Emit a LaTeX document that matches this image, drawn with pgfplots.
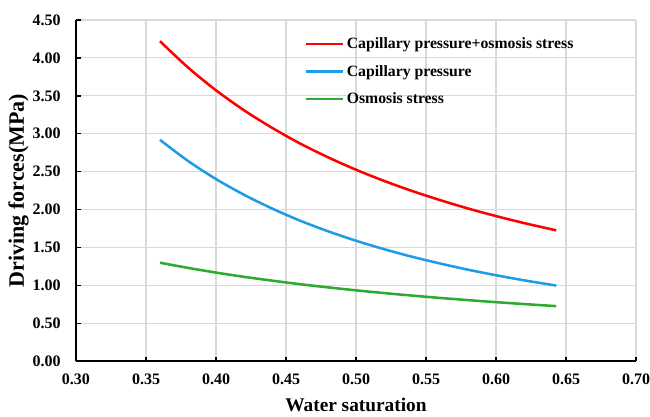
\documentclass[border=0pt]{standalone}
\usepackage{fontspec}
\setmainfont{Liberation Serif}
\usepackage{pgfplots}
\pgfplotsset{compat=1.18}
\definecolor{redline}{HTML}{FF0000}
\definecolor{blueline}{HTML}{1E9CE6}
\definecolor{greenline}{HTML}{2EAA2E}
\definecolor{gridgray}{HTML}{D9D9D9}
\begin{document}
\begin{tikzpicture}
\begin{axis}[
    scale only axis,
    width=420pt, height=256pt,
    xmin=0.30, xmax=0.70,
    ymin=0, ymax=4.5,
    xtick={0.30,0.35,...,0.71},
    ytick={0,0.5,...,4.51},
    axis x line=bottom, axis y line=left,
    axis line style={line width=1.3pt, -},
    tick align=inside,
    major tick length=3.5pt,
    tick style={line width=1pt, black},
    grid=major,
    grid style={line width=0.8pt, draw=gridgray},
    xticklabel style={yshift=-6pt, /pgf/number format/.cd, fixed, fixed zerofill, precision=2},
    yticklabel style={xshift=-8pt, /pgf/number format/.cd, fixed, fixed zerofill, precision=2},
    /pgf/number format/assume math mode=true,
    tick label style={font=\fontsize{12}{14}\selectfont\bfseries},
    xlabel={Water saturation},
    ylabel={Driving forces(MPa)},
    xlabel style={font=\fontsize{14.5}{17}\selectfont\bfseries, yshift=-3pt},
    ylabel style={font=\fontsize{16.5}{19}\selectfont\bfseries, yshift=-4pt},
    legend style={at={(0.40,0.965)}, anchor=north west, draw=none, fill=none,
        font=\fontsize{11.8}{13}\selectfont\bfseries, row sep=7pt},
    legend cell align=left,
    legend image code/.code={\draw[#1] (0pt,0pt) -- (28pt,0pt);},
]
\addplot[redline, line width=1.9pt, smooth] coordinates {
    (0.36,4.220)(0.38,3.874)(0.40,3.573)(0.42,3.310)(0.44,3.079)
    (0.46,2.872)(0.48,2.690)(0.50,2.526)(0.52,2.379)(0.54,2.246)
    (0.56,2.126)(0.58,2.015)(0.60,1.915)(0.62,1.823)(0.643,1.727)
};
\addlegendentry{Capillary pressure+osmosis stress}
\addplot[blueline, line width=1.9pt, smooth] coordinates {
    (0.36,2.920)(0.38,2.642)(0.40,2.403)(0.42,2.196)(0.44,2.015)
    (0.46,1.855)(0.48,1.715)(0.50,1.590)(0.52,1.479)(0.54,1.379)
    (0.56,1.290)(0.58,1.208)(0.60,1.135)(0.62,1.068)(0.643,0.999)
};
\addlegendentry{Capillary pressure}
\addplot[greenline, line width=1.9pt, smooth] coordinates {
    (0.36,1.300)(0.38,1.232)(0.40,1.170)(0.42,1.114)(0.44,1.064)
    (0.46,1.017)(0.48,0.975)(0.50,0.936)(0.52,0.900)(0.54,0.867)
    (0.56,0.836)(0.58,0.807)(0.60,0.780)(0.62,0.755)(0.643,0.728)
};
\addlegendentry{Osmosis stress}
\coordinate (SW) at (rel axis cs:0,0);
\coordinate (NE) at (rel axis cs:1,1);
\end{axis}
\pgfresetboundingbox
\path ([shift={(-57pt,-41pt)}]SW) rectangle ([shift={(10.5pt,15pt)}]NE);
\end{tikzpicture}
\end{document}
